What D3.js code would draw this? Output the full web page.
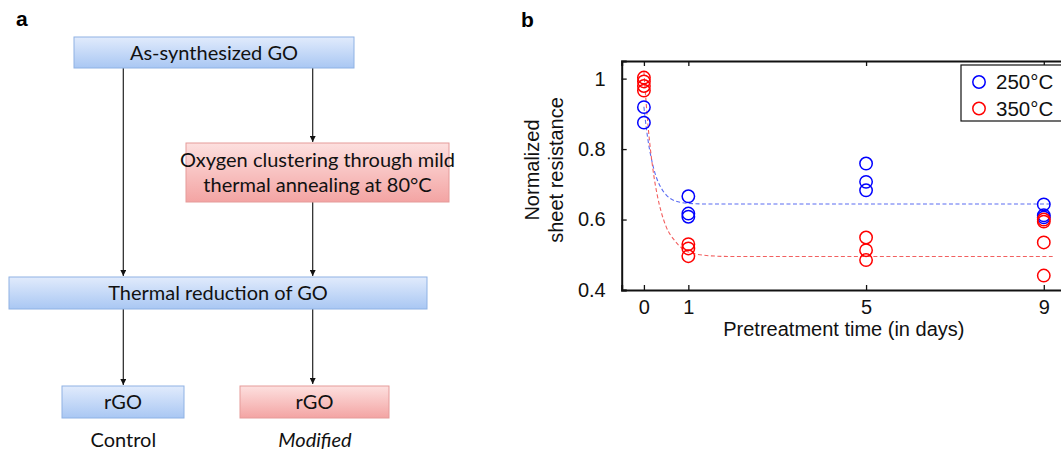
<!DOCTYPE html>
<html lang="en">
<head>
<meta charset="UTF-8" />
<title>GO pretreatment</title>
<script src="https://d3js.org/d3.v7.min.js"></script>
<style>
  body { margin: 0; background: #fff; }
  svg { display: block; }
</style>
</head>
<body>
<div id="chart"></div>
<script>
// flowchart labels
const stepLabels = ["As-synthesized GO", "Oxygen clustering through mild|thermal annealing at 80°C",
  "Thermal reduction of GO", "rGO", "rGO"];
const outcomeLabels = ["Control", "Modified"];

// panel b data
const xTicks = [0, 1, 5, 9];
const yTicks = [0.4, 0.6, 0.8, 1];
const seriesNames = ["250°C", "350°C"];
const days250 = [0, 0, 1, 1, 1, 5, 5, 5, 9, 9, 9];
const vals250 = [0.919, 0.875, 0.666, 0.617, 0.608, 0.759, 0.707, 0.683, 0.643, 0.612, 0.606];
const days350 = [0, 0, 0, 0, 1, 1, 1, 5, 5, 5, 9, 9, 9, 9];
const vals350 = [1.003, 0.992, 0.979, 0.966, 0.530, 0.518, 0.496, 0.549, 0.513, 0.485, 0.600, 0.594, 0.535, 0.441];
// dashed fit curves
const fitDays = [0, 0.05, 0.1, 0.2, 0.3, 0.4, 0.5, 0.7, 1, 1.5, 2, 3, 5, 9.2];
const fit250 = [0.92, 0.864, 0.819, 0.755, 0.713, 0.687, 0.670, 0.653, 0.646, 0.644, 0.644, 0.644, 0.644, 0.644];
const fit350 = [1.02, 0.932, 0.857, 0.745, 0.669, 0.617, 0.580, 0.539, 0.508, 0.497, 0.495, 0.495, 0.495, 0.495];

const W = 1061, H = 453;
const svg = d3.select("#chart").append("svg").attr("width", W).attr("height", H);
const defs = svg.append("defs");

function grad(id, c1, c2) {
  const g = defs.append("linearGradient").attr("id", id)
    .attr("x1", 0).attr("y1", 0).attr("x2", 0).attr("y2", 1);
  g.append("stop").attr("offset", "0%").attr("stop-color", c1);
  g.append("stop").attr("offset", "100%").attr("stop-color", c2);
}
grad("gBlue", "#e1ebfc", "#a9c7f3");
grad("gRed", "#fde0df", "#f3a4a3");

defs.append("marker").attr("id", "arrow")
  .attr("viewBox", "0 0 10 10").attr("refX", 10).attr("refY", 5)
  .attr("markerWidth", 6).attr("markerHeight", 6).attr("orient", "auto")
  .attr("markerUnits", "userSpaceOnUse")
  .append("path").attr("d", "M0,0 L10,5 L0,10 z").attr("fill", "#111");

// ---------- panel a ----------
const a = svg.append("g").attr("font-family", "Lato, 'Open Sans', sans-serif");
a.append("text").attr("x", 16).attr("y", 26).attr("font-family", "Liberation Sans, Arial, sans-serif")
  .attr("font-weight", "bold").attr("font-size", 21).text("a");

const boxes = [
  { x: 74, y: 37, w: 280, h: 31, fill: "gBlue", stroke: "#8fb2e4" },
  { x: 186, y: 143, w: 263, h: 59, fill: "gRed", stroke: "#e59b9a" },
  { x: 9, y: 277, w: 418, h: 32, fill: "gBlue", stroke: "#8fb2e4" },
  { x: 62, y: 386, w: 122, h: 32, fill: "gBlue", stroke: "#8fb2e4" },
  { x: 240, y: 386, w: 149, h: 32, fill: "gRed", stroke: "#e59b9a" }
];
const xl = 123.3, xr = 312.7;
const links = [
  [xl, 68, xl, 276], [xr, 68, xr, 142],
  [xr, 202, xr, 276], [xl, 309, xl, 385], [xr, 309, xr, 384]
];
a.selectAll("line.link").data(links).enter().append("line")
  .attr("x1", d => d[0]).attr("y1", d => d[1]).attr("x2", d => d[2]).attr("y2", d => d[3])
  .attr("stroke", "#222").attr("stroke-width", 1.2).attr("marker-end", "url(#arrow)");

boxes.forEach((b, i) => {
  a.append("rect").attr("x", b.x).attr("y", b.y).attr("width", b.w).attr("height", b.h)
    .attr("fill", `url(#${b.fill})`).attr("stroke", b.stroke).attr("stroke-width", 1);
  const lines = stepLabels[i].split("|");
  const cy = b.y + b.h / 2;
  lines.forEach((t, j) => {
    a.append("text").attr("x", b.x + b.w / 2)
      .attr("y", cy + (j - (lines.length - 1) / 2) * 25 + 7)
      .attr("text-anchor", "middle").attr("font-size", 20).attr("fill", "#111").text(t);
  });
});
a.append("text").attr("x", xl).attr("y", 447).attr("text-anchor", "middle")
  .attr("font-size", 20).attr("fill", "#111").text(outcomeLabels[0]);
a.append("text").attr("x", 315).attr("y", 447).attr("text-anchor", "middle")
  .attr("font-size", 20).attr("font-style", "italic").attr("fill", "#111").text(outcomeLabels[1]);

// ---------- panel b ----------
const b = svg.append("g").attr("font-family", "'Liberation Sans', Arial, sans-serif");
b.append("text").attr("x", 521).attr("y", 27).attr("font-weight", "bold").attr("font-size", 21).text("b");

const x = d3.scaleLinear().domain([-0.5, 9.5]).range([621.7, 1066]);
const y = d3.scaleLinear().domain([0.4, 1.05]).range([290, 61]);

const clip = defs.append("clipPath").attr("id", "plotclip");
clip.append("rect").attr("x", x.range()[0]).attr("y", y.range()[1])
  .attr("width", x.range()[1] - x.range()[0]).attr("height", y.range()[0] - y.range()[1]);

// fit curves
const fitLine = d3.line().x(d => x(d[0])).y(d => y(d[1])).curve(d3.curveMonotoneX);
const fits = [
  { v: fit250, c: "#5b6cf2" },
  { v: fit350, c: "#f26060" }
];
fits.forEach(f => {
  b.append("path").datum(fitDays.map((d, i) => [d, f.v[i]]))
    .attr("d", fitLine).attr("fill", "none").attr("stroke", f.c)
    .attr("stroke-width", 1.1).attr("stroke-dasharray", "4,2.5")
    .attr("clip-path", "url(#plotclip)");
});

// markers
const sets = [
  { d: days250, v: vals250, c: "#0000ff" },
  { d: days350, v: vals350, c: "#ff0000" }
];
sets.forEach(s => {
  b.append("g").selectAll("circle").data(s.d.map((d, i) => [d, s.v[i]])).enter()
    .append("circle").attr("cx", d => x(d[0])).attr("cy", d => y(d[1])).attr("r", 6.2)
    .attr("fill", "none").attr("stroke", s.c).attr("stroke-width", 1.5);
});

// axes (MATLAB box with inward ticks)
const tk = 5;
const axB = b.append("g").attr("transform", `translate(0,${y.range()[0]})`)
  .call(d3.axisBottom(x).tickValues(xTicks).tickSize(-tk).tickPadding(10).tickFormat(d3.format("d")));
const axT = b.append("g").attr("transform", `translate(0,${y.range()[1]})`)
  .call(d3.axisTop(x).tickValues(xTicks).tickSize(-tk).tickFormat(""));
const axL = b.append("g").attr("transform", `translate(${x.range()[0]},0)`)
  .call(d3.axisLeft(y).tickValues(yTicks).tickSize(-tk).tickPadding(11 + tk).tickFormat(d => d === 1 ? "1" : d3.format(".1f")(d)));
const axR = b.append("g").attr("transform", `translate(${x.range()[1]},0)`)
  .call(d3.axisRight(y).tickValues(yTicks).tickSize(-tk).tickFormat(""));
[axB, axT, axL, axR].forEach(g => {
  g.select(".domain").attr("stroke", "#111").attr("stroke-width", 2);
  g.selectAll(".tick line").attr("stroke", "#111").attr("stroke-width", 1.3);
  g.selectAll("text").attr("font-size", 20).attr("fill", "#111").attr("font-family", "'Liberation Sans', Arial, sans-serif");
});

// axis labels
b.append("text").attr("x", (x.range()[0] + x.range()[1]) / 2).attr("y", 336)
  .attr("text-anchor", "middle").attr("font-size", 20).attr("fill", "#111")
  .text("Pretreatment time (in days)");
const yl = b.append("text").attr("transform", "translate(539,170) rotate(-90)")
  .attr("text-anchor", "middle").attr("font-size", 20).attr("fill", "#111");
yl.append("tspan").attr("x", 0).attr("dy", 0).text("Normalized");
yl.append("tspan").attr("x", 0).attr("dy", 24).text("sheet resistance");

// legend
const lg = b.append("g");
lg.append("rect").attr("x", 961).attr("y", 65).attr("width", 102).attr("height", 56)
  .attr("fill", "#fff").attr("stroke", "#111").attr("stroke-width", 1.2);
seriesNames.forEach((n, i) => {
  const cy = 82 + i * 26.5;
  lg.append("circle").attr("cx", 979).attr("cy", cy).attr("r", 6.2)
    .attr("fill", "none").attr("stroke", sets[i].c).attr("stroke-width", 1.5);
  lg.append("text").attr("x", 996).attr("y", cy + 7).attr("font-size", 20.5).attr("fill", "#111").text(n);
});
</script>
</body>
</html>
